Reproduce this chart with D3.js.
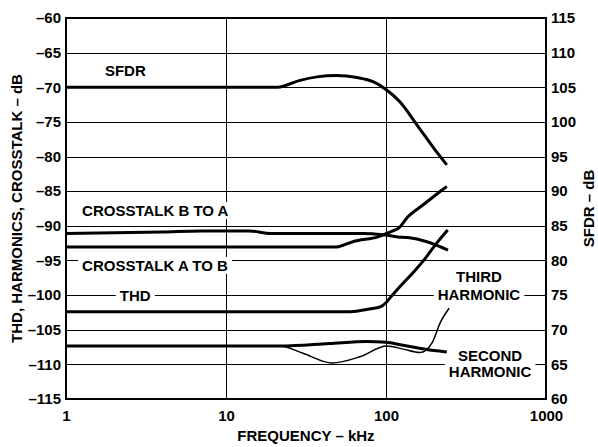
<!DOCTYPE html>
<html>
<head>
<meta charset="utf-8">
<script src="https://cdn.jsdelivr.net/npm/d3@7"></script>
<style>
  body { margin: 0; background: #fff; }
  text { font-family: "Liberation Sans", Arial, sans-serif; font-weight: bold; fill: #000; }
</style>
</head>
<body>
<div id="chart"></div>
<script>
// frequencies in kHz, levels in dB
var xTicks = [1, 10, 100, 1000];
var leftTicks = [-60, -65, -70, -75, -80, -85, -90, -95, -100, -105, -110, -115];
var rightTicks = [115, 110, 105, 100, 95, 90, 85, 80, 75, 70, 65, 60];

// SFDR is read on the right axis
var sfdrF = [1, 21, 29, 37, 49, 66, 83, 101, 122, 158, 202, 240];
var sfdrV = [105, 105, 106.0, 106.5, 106.7, 106.4, 105.8, 104.6, 102.9, 99.4, 96.0, 93.8];

var xtalkBAF = [1, 4, 7, 14, 19, 72, 96, 119, 137, 180, 244];
var xtalkBAV = [-91.1, -90.9, -90.75, -90.75, -91.1, -91.1, -91.3, -91.6, -91.7, -92.3, -93.5];

var xtalkABF = [1, 49, 54, 62, 89, 114, 119, 137, 170, 211, 240];
var xtalkABV = [-93.06, -93.06, -92.8, -92.3, -91.6, -90.6, -90.4, -88.7, -87.0, -85.3, -84.3];

var thdF = [1, 60, 79, 92, 100, 106, 122, 147, 180, 201, 243];
var thdV = [-102.4, -102.4, -102.0, -101.7, -101.1, -100.4, -98.8, -96.8, -94.4, -92.9, -90.6];

var secondF = [1, 22, 44, 76, 100, 125, 156, 200, 240];
var secondV = [-107.35, -107.35, -107.0, -106.7, -106.8, -107.2, -107.6, -108.0, -108.2];

var thirdF = [1, 21.7, 30.3, 46, 68.8, 101, 128, 163, 194, 218, 248];
var thirdV = [-107.35, -107.35, -108.4, -109.8, -108.9, -107.35, -107.8, -108.3, -106.9, -104.0, -101.9];

var width = 598, height = 447;
var m = { left: 66, right: 546, top: 18, bottom: 399 };

var x = d3.scaleLog().domain([1, 1000]).range([m.left, m.right]);
var yL = d3.scaleLinear().domain([-115, -60]).range([m.bottom, m.top]);
var yR = d3.scaleLinear().domain([60, 115]).range([m.bottom, m.top]);

var svg = d3.select('#chart').append('svg')
    .attr('width', width)
    .attr('height', height);

/* --------- GRID ---------*/
var grid = svg.append('g')
    .attr('stroke', '#000')
    .attr('stroke-width', 1)
    .attr('shape-rendering', 'crispEdges');
grid.selectAll('line.h')
    .data(leftTicks.slice(1, -1))
    .enter().append('line')
    .attr('x1', m.left).attr('x2', m.right)
    .attr('y1', function (d) { return Math.round(yL(d)) + 0.5; })
    .attr('y2', function (d) { return Math.round(yL(d)) + 0.5; });
grid.selectAll('line.v')
    .data(xTicks.slice(1, -1))
    .enter().append('line')
    .attr('y1', m.top).attr('y2', m.bottom)
    .attr('x1', function (d) { return Math.round(x(d)) + 0.5; })
    .attr('x2', function (d) { return Math.round(x(d)) + 0.5; });

/* --------- CURVES ---------*/
function zip(f, v) {
    return f.map(function (d, i) { return [d, v[i]]; });
}
var series = [
    { pts: zip(sfdrF, sfdrV), y: yR, w: 3 },
    { pts: zip(xtalkBAF, xtalkBAV), y: yL, w: 3 },
    { pts: zip(xtalkABF, xtalkABV), y: yL, w: 3 },
    { pts: zip(thdF, thdV), y: yL, w: 3 },
    { pts: zip(thirdF, thirdV), y: yL, w: 1.5 },
    { pts: zip(secondF, secondV), y: yL, w: 3 }
];
svg.append('g').selectAll('path')
    .data(series)
    .enter().append('path')
    .attr('fill', 'none')
    .attr('stroke', '#000')
    .attr('stroke-linejoin', 'round')
    .attr('stroke-width', function (d) { return d.w; })
    .attr('d', function (s) {
        return d3.line()
            .x(function (d) { return x(d[0]); })
            .y(function (d) { return s.y(d[1]); })
            .curve(d3.curveMonotoneX)(s.pts);
    });

/* --------- LABELS ---------*/
var labels = [
    { t: 'SFDR', f: 1.75, v: -68.4, a: 'start' },
    { t: 'CROSSTALK B TO A', f: 1.26, v: -88.6, a: 'start' },
    { t: 'CROSSTALK A TO B', f: 1.26, v: -96.5, a: 'start' },
    { t: 'THD', f: 2.17, v: -100.85, a: 'start' },
    { t: 'THIRD', f: 381, v: -98.1, a: 'middle' },
    { t: 'HARMONIC', f: 381, v: -100.7, a: 'middle' },
    { t: 'SECOND', f: 447, v: -109.5, a: 'middle' },
    { t: 'HARMONIC', f: 447, v: -111.8, a: 'middle' }
];
var lg = svg.append('g');
labels.forEach(function (d) {
    var g = lg.append('g');
    var t = g.append('text')
        .attr('x', x(d.f))
        .attr('y', yL(d.v))
        .attr('text-anchor', d.a)
        .attr('font-size', 15)
        .text(d.t);
    var b = t.node().getBBox();
    g.insert('rect', 'text')
        .attr('x', b.x - 4).attr('y', b.y)
        .attr('width', b.width + 8).attr('height', b.height)
        .attr('fill', '#fff');
});

/* --------- FRAME & AXES ---------*/
svg.append('rect')
    .attr('x', m.left).attr('y', m.top)
    .attr('width', m.right - m.left).attr('height', m.bottom - m.top)
    .attr('fill', 'none')
    .attr('stroke', '#000')
    .attr('stroke-width', 2)
    .attr('shape-rendering', 'crispEdges');

var yAxisL = d3.axisLeft(yL).tickValues(leftTicks).tickSize(0).tickPadding(5)
    .tickFormat(function (d) { return String(d).replace('-', '\u2013'); });
var yAxisR = d3.axisRight(yR).tickValues(rightTicks).tickSize(0).tickPadding(5);
var xAxis = d3.axisBottom(x).tickValues(xTicks).tickSize(0).tickPadding(11)
    .tickFormat(d3.format('d'));

[svg.append('g').attr('transform', 'translate(' + m.left + ',0)').call(yAxisL),
 svg.append('g').attr('transform', 'translate(' + m.right + ',0)').call(yAxisR),
 svg.append('g').attr('transform', 'translate(0,' + m.bottom + ')').call(xAxis)]
    .forEach(function (a) {
        a.select('.domain').remove();
        a.selectAll('text')
            .attr('font-size', 15)
            .attr('font-family', '"Liberation Sans", Arial, sans-serif')
            .attr('font-weight', 'bold')
            .attr('fill', '#000');
    });

/* --------- TITLES ---------*/
svg.append('text')
    .attr('x', (m.left + m.right) / 2)
    .attr('y', 441)
    .attr('text-anchor', 'middle')
    .attr('font-size', 15)
    .text('FREQUENCY \u2013 kHz');
svg.append('text')
    .attr('transform', 'translate(22,' + (m.top + m.bottom) / 2 + ') rotate(-90)')
    .attr('text-anchor', 'middle')
    .attr('font-size', 15)
    .text('THD, HARMONICS, CROSSTALK \u2013 dB');
svg.append('text')
    .attr('transform', 'translate(594,' + (m.top + m.bottom) / 2 + ') rotate(-90)')
    .attr('text-anchor', 'middle')
    .attr('font-size', 15)
    .text('SFDR \u2013 dB');
</script>
</body>
</html>
